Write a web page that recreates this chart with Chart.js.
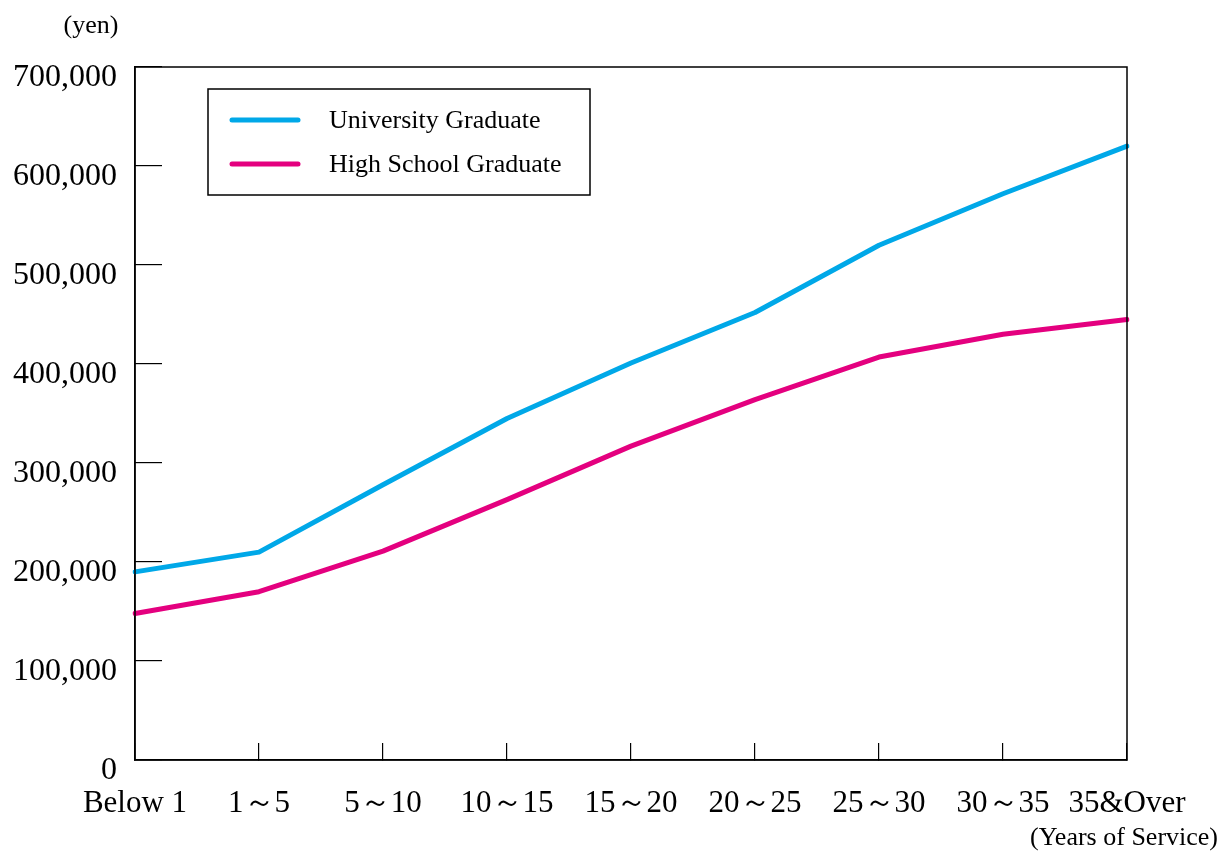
<!DOCTYPE html>
<html>
<head>
<meta charset="utf-8">
<script src="https://cdn.jsdelivr.net/npm/chart.js@4/dist/chart.umd.min.js"></script>
<style>
  html, body { margin: 0; padding: 0; background: #fff; }
  #wrap { width: 1221px; height: 851px; position: relative; }
</style>
</head>
<body>
<div id="wrap"><canvas id="c" width="1221" height="851"></canvas></div>
<script>
const categories = ["Below 1", "1～5", "5～10", "10～15", "15～20", "20～25", "25～30", "30～35", "35&Over"];
const seriesNames = ["University Graduate", "High School Graduate"];
const universityValues = [190000, 210000, 278000, 345000, 401000, 452000, 520000, 572000, 620000];
const highSchoolValues = [148000, 170000, 211000, 263000, 317000, 364000, 407000, 430000, 445000];
const yUnitLabel = "(yen)";
const xUnitLabel = "(Years of Service)";

const SERIF = "'Liberation Serif', 'Times New Roman', serif";

const framePlugin = {
  id: 'frame',
  afterDraw(chart) {
    const { ctx, chartArea: a } = chart;
    ctx.save();
    ctx.strokeStyle = '#000';
    ctx.lineWidth = 1.5;
    ctx.strokeRect(a.left, a.top, a.right - a.left, a.bottom - a.top);
    // unit labels
    ctx.fillStyle = '#000';
    ctx.font = "26px " + SERIF;
    ctx.textAlign = 'center';
    ctx.textBaseline = 'middle';
    ctx.fillText(yUnitLabel, 91, 26);
    ctx.font = "26px " + SERIF;
    ctx.textAlign = 'right';
    ctx.fillText(xUnitLabel, 1218, 838);
    // legend box
    const bx = 208, by = 89, bw = 382, bh = 106;
    ctx.lineWidth = 1.5;
    ctx.strokeRect(bx, by, bw, bh);
    const rows = [120, 164];
    chart.data.datasets.forEach((ds, i) => {
      const y = rows[i];
      ctx.strokeStyle = ds.borderColor;
      ctx.lineWidth = 5;
      ctx.lineCap = 'round';
      ctx.beginPath();
      ctx.moveTo(232, y);
      ctx.lineTo(298, y);
      ctx.stroke();
      ctx.fillStyle = '#000';
      ctx.font = "26px " + SERIF;
      ctx.textAlign = 'left';
      ctx.textBaseline = 'middle';
      ctx.fillText(ds.label, 329, y + 1);
    });
    ctx.restore();
  }
};

new Chart(document.getElementById('c'), {
  type: 'line',
  data: {
    labels: categories,
    datasets: [
      { label: seriesNames[0], data: universityValues, borderColor: '#00A8E8', borderWidth: 5, pointRadius: 0, tension: 0, borderCapStyle: 'round', borderJoinStyle: 'round' },
      { label: seriesNames[1], data: highSchoolValues, borderColor: '#E4007F', borderWidth: 5, pointRadius: 0, tension: 0, borderCapStyle: 'round', borderJoinStyle: 'round' }
    ]
  },
  options: {
    responsive: false,
    animation: false,
    devicePixelRatio: 1,
    layout: { padding: { top: 67, right: 94, left: 0, bottom: 0 } },
    plugins: { legend: { display: false }, tooltip: { enabled: false }, title: { display: false } },
    scales: {
      x: {
        type: 'category',
        offset: false,
        grid: { drawOnChartArea: false, drawTicks: true, tickLength: -17, color: '#000', lineWidth: 1.2 },
        border: { display: true, color: '#000', width: 1.5 },
        ticks: { color: '#000', font: { family: SERIF, size: 31 }, padding: 42, maxRotation: 0, autoSkip: false },
        afterFit(s) { s.height = 91; s.paddingLeft = 0; s.paddingRight = 0; }
      },
      y: {
        min: 0, max: 700000,
        grid: { drawOnChartArea: false, drawTicks: true, tickLength: -27, color: '#000', lineWidth: 1.2 },
        border: { display: true, color: '#000', width: 1.5 },
        ticks: { stepSize: 100000, color: '#000', font: { family: SERIF, size: 32 }, padding: 45, labelOffset: 11,
          callback: v => v.toLocaleString('en-US') },
        afterFit(s) { s.width = 135; s.paddingTop = 0; s.paddingBottom = 0; }
      }
    }
  },
  plugins: [framePlugin]
});
</script>
</body>
</html>
